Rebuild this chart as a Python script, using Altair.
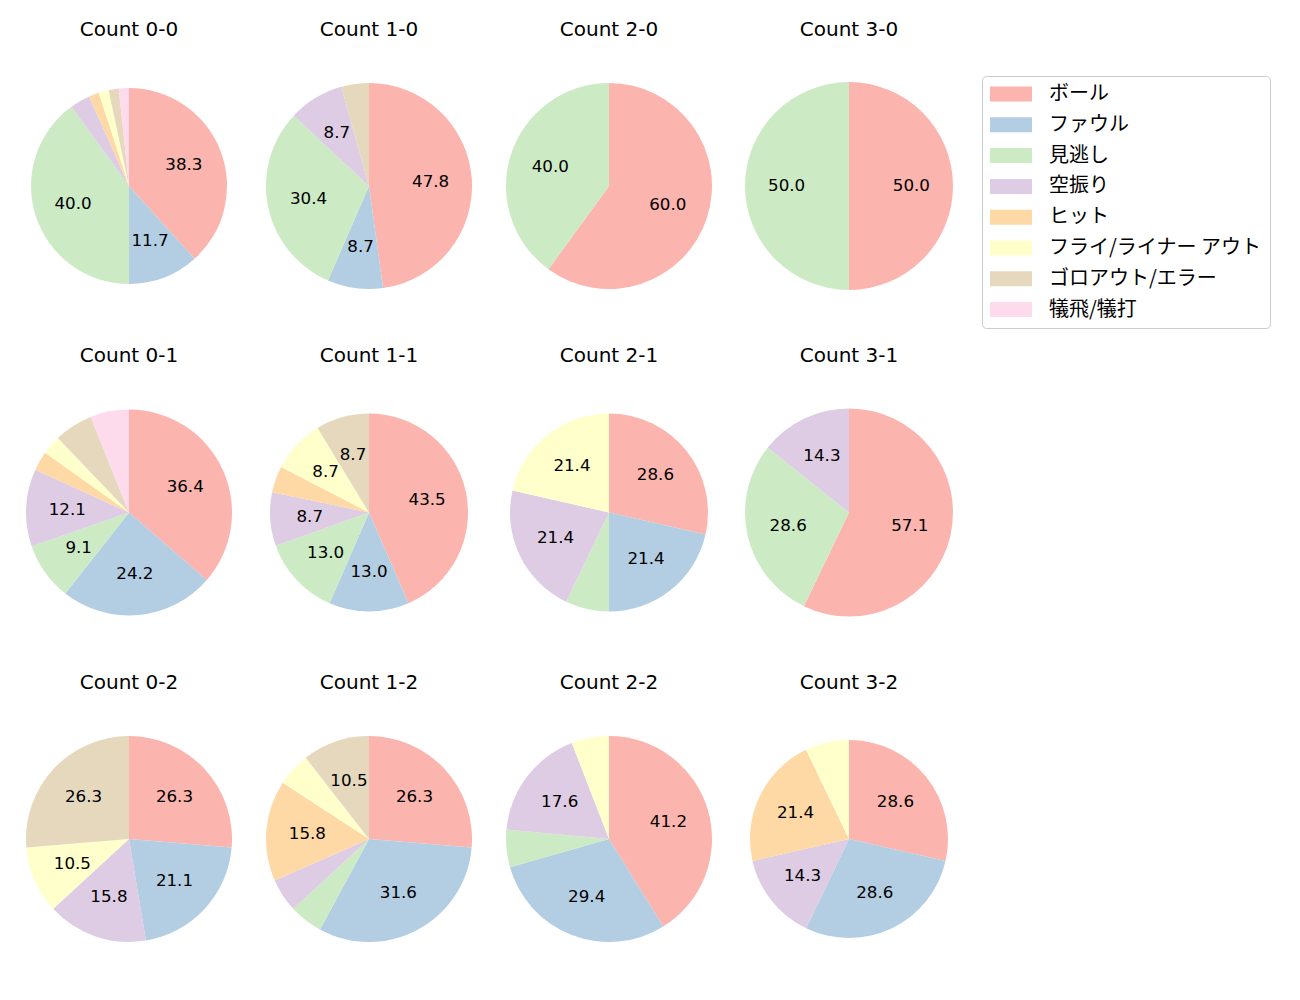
import altair as alt
import pandas as pd

categories = ["ボール", "ファウル", "見逃し", "空振り", "ヒット",
              "フライ/ライナー アウト", "ゴロアウト/エラー", "犠飛/犠打"]
colors = ["#fbb4ae", "#b3cde3", "#ccebc5", "#decbe4", "#fed9a6",
          "#ffffcc", "#e5d8bd", "#fddaec"]

count_labels = ["0-0", "1-0", "2-0", "3-0",
                "0-1", "1-1", "2-1", "3-1",
                "0-2", "1-2", "2-2", "3-2"]

# pitch outcome counts per ball-strike count (order follows categories)
c_0_0 = [23, 7, 24, 2, 1, 1, 1, 1]
c_1_0 = [11, 2, 7, 2, 0, 0, 1, 0]
c_2_0 = [3, 0, 2, 0, 0, 0, 0, 0]
c_3_0 = [1, 0, 1, 0, 0, 0, 0, 0]
c_0_1 = [12, 8, 3, 4, 1, 1, 2, 2]
c_1_1 = [10, 3, 3, 2, 1, 2, 2, 0]
c_2_1 = [4, 3, 1, 3, 0, 3, 0, 0]
c_3_1 = [4, 0, 2, 1, 0, 0, 0, 0]
c_0_2 = [5, 4, 0, 3, 0, 2, 5, 0]
c_1_2 = [5, 6, 1, 1, 3, 1, 2, 0]
c_2_2 = [7, 5, 1, 3, 0, 1, 0, 0]
c_3_2 = [4, 4, 0, 2, 3, 1, 0, 0]

series = [c_0_0, c_1_0, c_2_0, c_3_0, c_0_1, c_1_1, c_2_1, c_3_1,
          c_0_2, c_1_2, c_2_2, c_3_2]

# layout constants (not data)
radii = [98, 103, 103, 104, 103, 99, 99, 104, 103, 103, 103, 99]
CELL = 220
FONT = "DejaVu Sans, Noto Sans CJK JP"
LFONT = "Noto Sans CJK JP"

rows = []
for cl, vals in zip(count_labels, series):
    total = sum(vals)
    for i, (cat, v) in enumerate(zip(categories, vals)):
        if v <= 0:
            continue
        pct = v / total * 100
        rows.append({"count": "Count " + cl, "cat": cat, "idx": i,
                     "pct": pct,
                     "label": f"{pct:.1f}" if pct >= 8 else ""})
df = pd.DataFrame(rows)

color_scale = alt.Scale(domain=categories, range=colors)
theta_scale = alt.Scale(domain=[0, 100])


def panel(name, r):
    base = alt.Chart(df).transform_filter(alt.datum["count"] == name)
    arc = base.mark_arc(outerRadius=r, stroke=None).encode(
        theta=alt.Theta("pct:Q", stack=True, scale=theta_scale),
        color=alt.Color(
            "cat:N", scale=color_scale,
            legend=alt.Legend(
                title=None, orient="none", legendX=963, legendY=0,
                symbolType="M-1,-0.357H1V0.357H-1Z", symbolSize=1764,
                symbolStrokeWidth=0, symbolOpacity=1,
                labelFont=LFONT, labelFontSize=20, labelColor="#000000",
                labelOffset=17, clipHeight=20, rowPadding=10.8,
                labelExpr="datum.label + '\u3000'",
                padding=8, strokeColor="#cccccc", cornerRadius=4,
                fillColor="#ffffff", labelLimit=400,
            ),
        ),
        order=alt.Order("idx:Q"),
    )
    text = base.mark_text(radius=0.6 * r, font=FONT, fontSize=16.7,
                          color="#000000").encode(
        theta=alt.Theta("pct:Q", stack=True, scale=theta_scale),
        text="label:N",
        order=alt.Order("idx:Q"),
    )
    return alt.layer(arc, text).properties(
        width=CELL, height=CELL,
        title=alt.Title(name, font=FONT, fontSize=20, fontWeight="normal",
                        color="#000000", offset=36.5, anchor="middle"),
    )


panels = [panel("Count " + cl, r) for cl, r in zip(count_labels, radii)]
grid_rows = [alt.hconcat(*panels[i * 4:(i + 1) * 4], spacing=20)
             for i in range(3)]
chart = alt.vconcat(*grid_rows, spacing=49.5).resolve_scale(
    color="shared", theta="shared"
).properties(
    padding={"left": 11, "top": 11, "right": 10, "bottom": 10}
).configure_view(stroke=None)

chart.save("out.html", embed_options={"renderer": "svg", "actions": False})
